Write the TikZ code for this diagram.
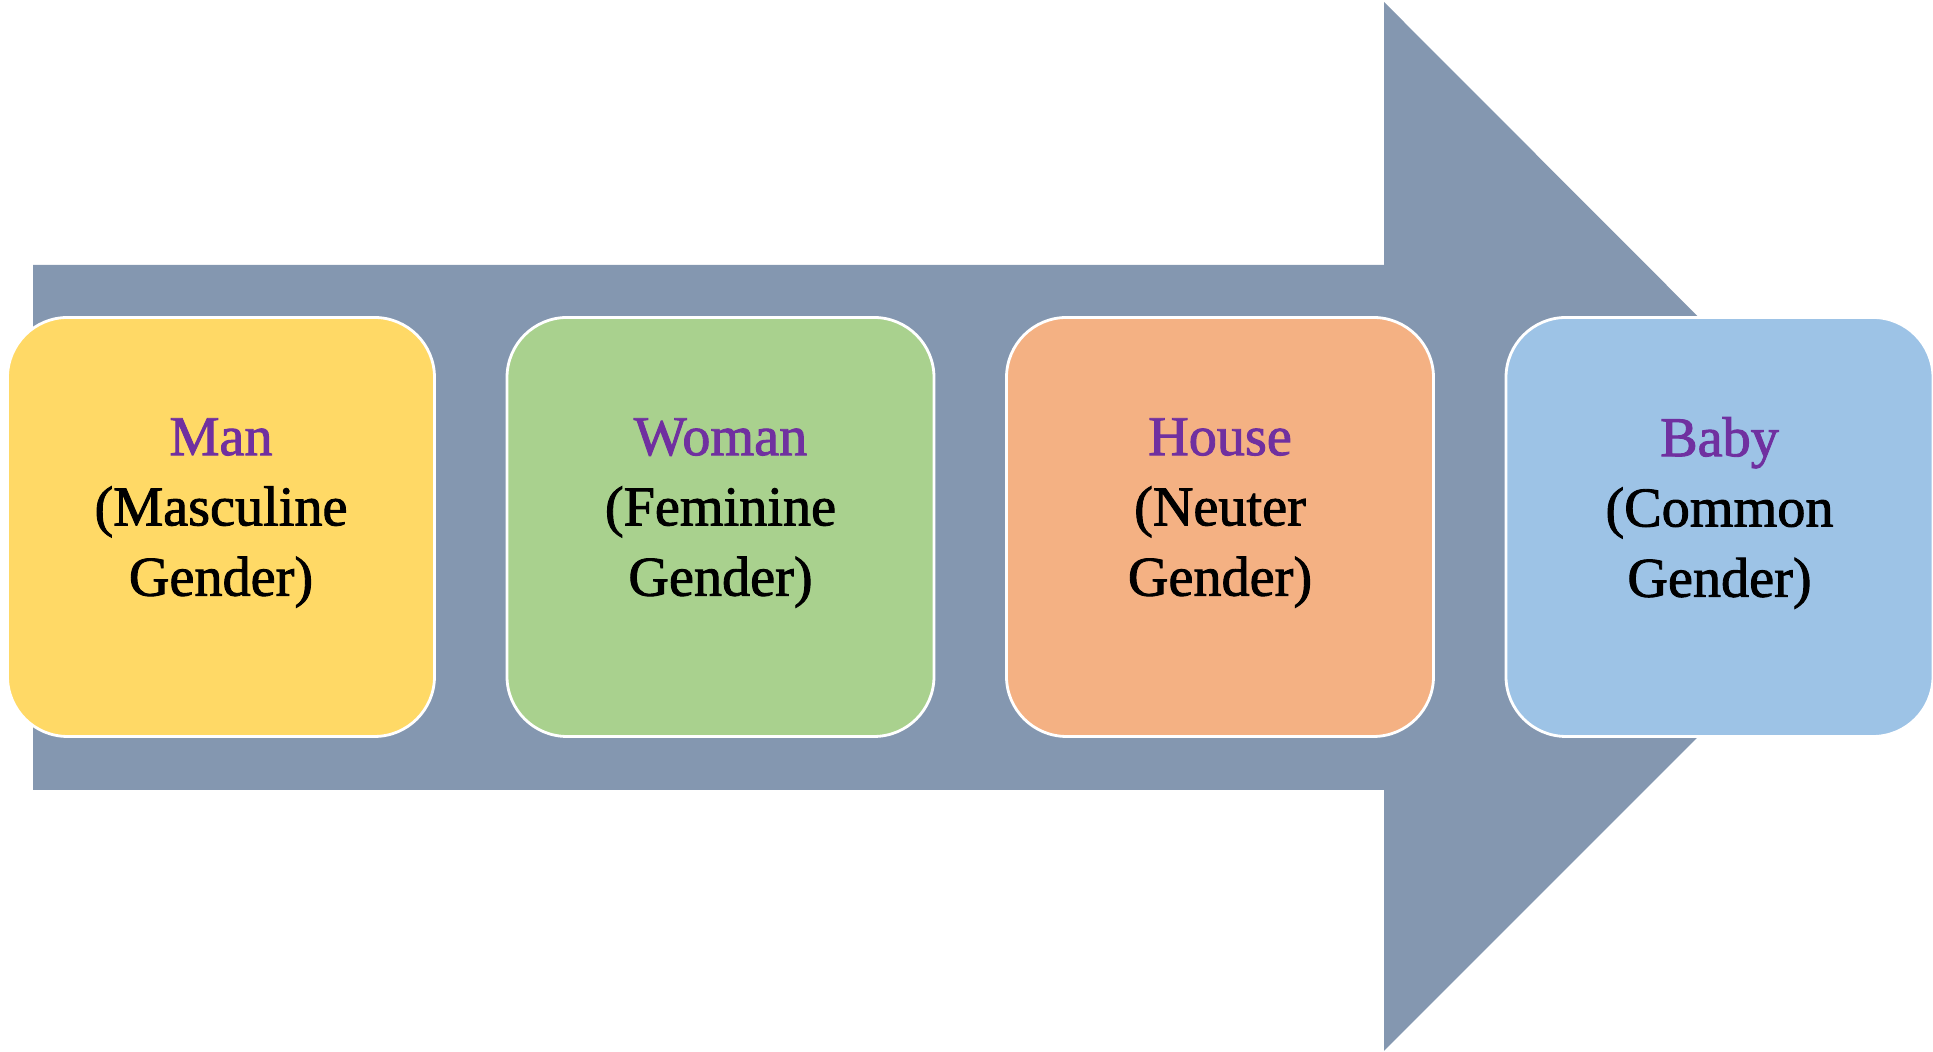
\documentclass[tikz,border=0pt]{standalone}
\usepackage{fontspec}
\setmainfont{Liberation Serif}[FakeBold=1.6]
\usepackage{xcolor}
\usetikzlibrary{positioning}
\definecolor{arrowgray}{HTML}{8497B0}
\definecolor{manyellow}{HTML}{FFD966}
\definecolor{womangreen}{HTML}{A9D18E}
\definecolor{houseorange}{HTML}{F4B183}
\definecolor{babyblue}{HTML}{9DC3E6}
\definecolor{nounpurple}{HTML}{7030A0}

\begin{document}
\begin{tikzpicture}
  % Define styles for the boxes and their texts
  \tikzset{
    genderbox/.style={
      draw=white,
      line width=0.8pt,
      rounded corners=0.6cm,
      minimum width=4.27cm,
      minimum height=4.19cm,
      inner sep=0pt
    },
    gendertext/.style={
      align=center,
      inner sep=0pt,
      font=\fontsize{16}{20}\selectfont
    }
  }
  \useasboundingbox (0,0) rectangle (19.33,10.52);

  % Big arrow behind the boxes
  \fill[arrowgray] (0.33,7.87) -- (13.84,7.87) -- (13.84,10.50) -- (19.08,5.25)
    -- (13.84,0.01) -- (13.84,2.62) -- (0.33,2.62) -- cycle;

  % Create the four boxes along the arrow
  \foreach \i/\name/\noun/\kind/\col in {0/man/Man/Masculine/manyellow,
      1/woman/Woman/Feminine/womangreen, 2/house/House/Neuter/houseorange,
      3/baby/Baby/Common/babyblue} {
    \node[genderbox, fill=\col] (\name) at (2.21+4.995*\i,5.25) {};
    \node[gendertext] (\name-text) at ([yshift=0.14cm]\name.center)
      {\textcolor{nounpurple}{\noun}\\(\kind\\Gender)};
  }
\end{tikzpicture}
\end{document}
